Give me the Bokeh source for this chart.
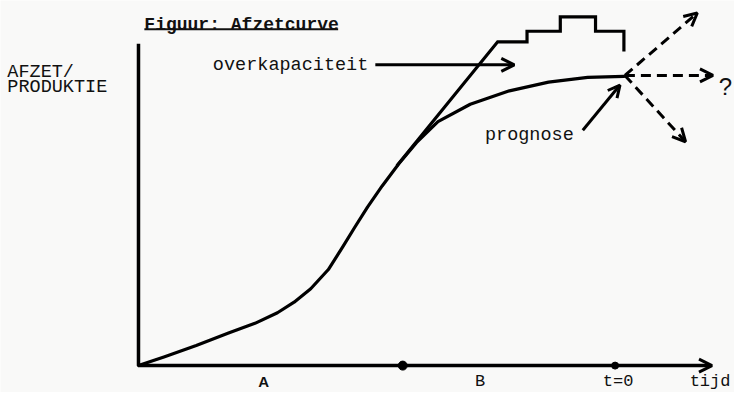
from bokeh.plotting import figure
from bokeh.models import Arrow, OpenHead, ColumnDataSource, Range1d
from bokeh.core.properties import value
from bokeh.embed import file_html
from bokeh.resources import INLINE

# ---- data (x = time units from origin, y = sales/production units) ----
prognose_x = [0, 26, 59, 92, 119, 142, 159, 176, 194, 209, 221, 234, 249, 266,
              284, 306, 339, 379, 419, 459, 496]
prognose_y = [0, 9, 21, 34, 44, 55, 66, 80, 100, 124, 144, 165, 187, 210,
              232, 254, 272, 286, 295, 300, 301]

overcap_x = [264, 367, 397, 397, 431, 431, 467, 467, 496, 496]
overcap_y = [208, 337, 337, 348, 348, 363, 363, 348, 348, 327]

# forecast scenarios from t=0 (up / flat / down)
scen_x0 = [497, 497, 497]
scen_y0 = [302, 302, 302]
scen_x1 = [571, 587, 559]
scen_y1 = [367, 302, 233]

period_dots_x = [270, 487]
period_dots_y = [0, 0]

xaxis_end = 586
yaxis_top = 335

bottom_labels = ["A", "B", "t=0", "tijd"]
bottom_label_x = [128, 349, 490, 584]

MONO = "Liberation Mono"
INK = "#111111"

W, H = 734, 392
p = figure(width=W, height=H, output_backend="svg", toolbar_location=None,
           x_range=Range1d(-141, 609), y_range=Range1d(-28, 380),
           min_border=0, background_fill_color="#f9f9f8",
           border_fill_color="#f9f9f8")
p.axis.visible = False
p.grid.visible = False
p.outline_line_color = None

# axes
p.line([0, 0], [0, yaxis_top], line_color="black", line_width=3.5)
p.add_layout(Arrow(end=OpenHead(size=13, line_width=3, line_color="black"),
                   x_start=0, y_start=0, x_end=xaxis_end, y_end=0,
                   line_width=3.5, line_color="black"))
p.scatter(period_dots_x, period_dots_y, size=[9, 7], color="black")

# curves
p.line(prognose_x, prognose_y, line_color="black", line_width=3.2,
       line_join="round", line_cap="round")
p.line(overcap_x, overcap_y, line_color="black", line_width=3.2,
       line_join="miter")

# scenario dashed arrows
scen = ColumnDataSource(dict(x0=scen_x0, y0=scen_y0, x1=scen_x1, y1=scen_y1))
p.add_layout(Arrow(end=OpenHead(size=13, line_width=3, line_color="black"),
                   source=scen, x_start="x0", y_start="y0", x_end="x1", y_end="y1",
                   line_width=3, line_dash="10 6", line_color="black"))

# annotation arrows
p.add_layout(Arrow(end=OpenHead(size=13, line_width=3, line_color="black"),
                   x_start=242, y_start=313, x_end=384, y_end=313,
                   line_width=3, line_color="black"))
p.add_layout(Arrow(end=OpenHead(size=12, line_width=3, line_color="black"),
                   x_start=454, y_start=245, x_end=492, y_end=292,
                   line_width=3, line_color="black"))

# texts
p.text([6], [354], text=["Figuur: Afzetcurve"], text_font=value(MONO),
       text_font_size="18px", text_font_style="bold", text_baseline="alphabetic",
       text_color=INK)
p.line([6, 204], [350, 350], line_color=INK, line_width=2)
p.text([-134, -134], [305, 289], text=["AFZET/", "PRODUKTIE"],
       text_font=value(MONO), text_font_size="18.5px", text_baseline="alphabetic",
       text_color=INK)
p.text([76], [312], text=["overkapaciteit"], text_font=value(MONO),
       text_font_size="18.5px", text_baseline="alphabetic", text_color=INK)
p.text([354], [240], text=["prognose"], text_font=value(MONO),
       text_font_size="18.5px", text_baseline="alphabetic", text_color=INK)
p.text(bottom_label_x[1:], [-17, -17, -17], text=bottom_labels[1:],
       text_font=value(MONO), text_font_size="17px", text_align="center",
       text_baseline="alphabetic", text_color=INK)
p.text([bottom_label_x[0]], [-17], text=[bottom_labels[0]],
       text_font=value("Liberation Sans"), text_font_size="15px",
       text_font_style="bold", text_align="center", text_baseline="alphabetic",
       text_color=INK)
p.text([593], [290], text=["?"], text_font=value("Liberation Sans"),
       text_font_size="24px", text_baseline="alphabetic", text_color=INK)

open("out.html", "w").write(file_html(p, INLINE))
